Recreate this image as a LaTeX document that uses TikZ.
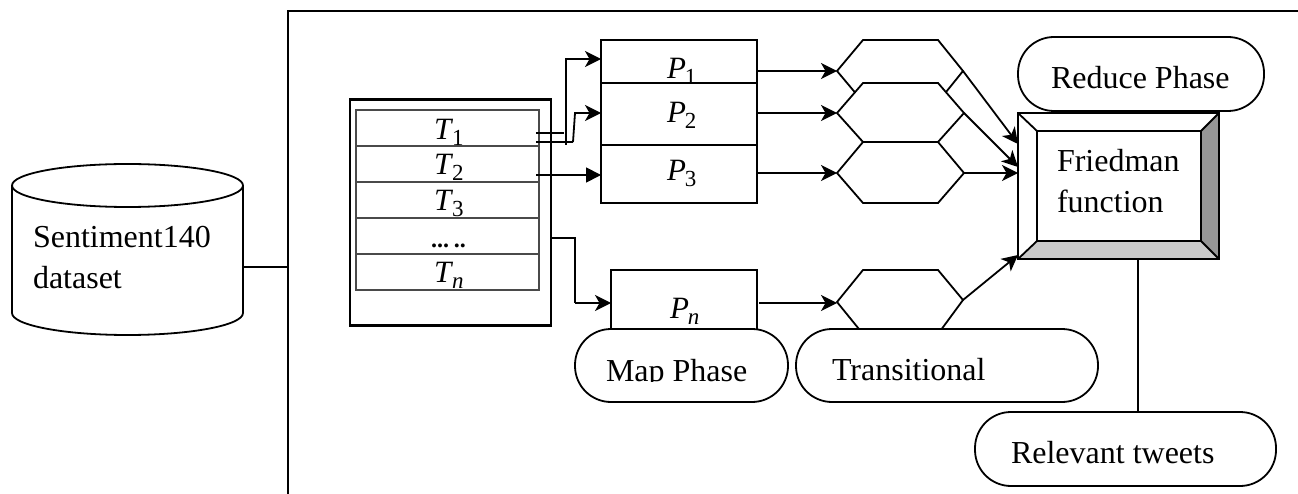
\documentclass[tikz,border=0pt]{standalone}
\usepackage{fontspec}
\setmainfont{Liberation Serif}
\usetikzlibrary{arrows.meta,calc}
\definecolor{facedark}{HTML}{969696}
\definecolor{facelight}{HTML}{CBCBCB}
\definecolor{cellline}{HTML}{4A4A4A}
\tikzset{
  ln/.style={draw=black,line width=1.8pt},
  rectbox/.style={ln,fill=white,rectangle,inner sep=0pt,outer sep=0pt},
  cellbox/.style={draw=cellline,line width=1.5pt,fill=white,rectangle,inner sep=0pt,outer sep=0pt,minimum width=183pt,minimum height=36pt},
  pill/.style={ln,fill=white,rectangle,rounded corners=36pt,inner sep=0pt,outer sep=0pt},
  hexa/.style={ln,fill=white,line join=miter},
  lbl/.style={anchor=base west,inner sep=0pt,outer sep=0pt,font=\fontsize{32}{32}\selectfont},
  mlbl/.style={anchor=base west,inner sep=0pt,outer sep=0pt,font=\fontsize{31}{31}\selectfont},
  arr/.style={ln,-{Stealth[length=16pt,width=16pt,inset=4.5pt]}},
  tarr/.style={ln,-{Triangle[length=15pt,width=15pt]}},
}
\newcommand{\hexpath}[7]{% name, lx, ly, rx, ry, top, bottom
  \coordinate (#1l) at (#2,#3);
  \coordinate (#1r) at (#4,#5);
  \draw[hexa] (#1l) -- (863,#6) -- (938,#6) -- (#1r) -- (938,#7) -- (863,#7) -- cycle;
}
% letter with subscript as the picture prints them
\newcommand{\subnum}[2]{\textit{#1}\kern-1pt\raisebox{-6pt}{\fontsize{23}{23}\selectfont #2}}
\newcommand{\subvar}[2]{\textit{#1}\kern-1pt\raisebox{-6pt}{\fontsize{23}{23}\selectfont\itshape #2}}
\begin{document}
\begin{tikzpicture}[x=1pt,y=-1pt]
\useasboundingbox (0,0) rectangle (1298,494);
% outer frame
\coordinate (frameTop) at (288,11);
\coordinate (frameEnd) at (1298,11);
\coordinate (frameBot) at (288,494);
\draw[ln] (frameEnd) -- (frameTop) -- (frameBot);
% cylinder
\draw[ln,fill=white] (12,186) -- (12,313) .. controls (12,325.2) and (63.8,335) .. (127.5,335)
   .. controls (191.3,335) and (243,325.2) .. (243,313) -- (243,186);
\draw[ln,fill=white] (127.5,185.5) ellipse [x radius=115.5,y radius=21.5];
\coordinate (cylR) at (243,267);
\draw[ln] (cylR) -- (cylR -| frameTop);
\node[lbl] (cyl1) at (33,248) {Sentiment140};
\node[lbl] (cyl2) at (33,289) {dataset};
% table
\node[rectbox,line width=2.2pt,minimum width=201pt,minimum height=226pt] (tbl) at (450.5,212.5) {};
\node[cellbox] (t1) at (447.5,128) {};
\node[cellbox] (t2) at (447.5,164) {};
\node[cellbox] (t3) at (447.5,200) {};
\node[cellbox] (t4) at (447.5,236) {};
\node[cellbox] (tn) at (447.5,272) {};
\node[mlbl] (tl1) at (434,140) {\subnum{T}{1}};
\node[mlbl] (tl2) at (434,175) {\subnum{T}{2}};
\node[mlbl] (tl3) at (434,211) {\subnum{T}{3}};
\node[mlbl,font=\fontsize{24}{24}\selectfont\bfseries] (tl4) at (431,248) {...\kern-1pt\ ..};
\node[mlbl] (tln) at (434,283) {\subvar{T}{n}};
% P boxes
\node[rectbox,minimum width=156pt,minimum height=43pt] (p1) at (679,61.5) {};
\node[mlbl] (pl1) at (667,79) {\subnum{P}{1}};
\node[rectbox,minimum width=156pt,minimum height=62pt] (p2) at (679,114) {};
\node[mlbl] (pl2) at (667,123) {\subnum{P}{2}};
\node[rectbox,minimum width=156pt,minimum height=58pt] (p3) at (679,174) {};
\node[mlbl] (pl3) at (667,181) {\subnum{P}{3}};
\node[rectbox,minimum width=146pt,minimum height=60pt] (pn) at (684,300) {};
\node[mlbl] (pln) at (670,318) {\subvar{P}{n}};
% hexagons
\hexpath{h1}{837}{71}{963}{71}{40}{102}
\hexpath{h2}{837}{113}{964}{113}{83}{142}
\hexpath{h3}{837}{173}{964}{173}{142}{203}
\hexpath{h4}{837}{302}{963}{300}{270}{334}
% pills
\node[pill,minimum width=213pt,minimum height=73pt] (mapP) at (681.5,365.5) {};
\begin{scope}
\clip (590,340) rectangle (770,381);
\node[lbl] (mapT) at (606,381) {Map Phase};
\end{scope}
\node[pill,minimum width=302pt,minimum height=73pt] (trP) at (947,365.5) {};
\node[lbl] (trT) at (832,380) {Transitional};
\node[pill,minimum width=246pt,minimum height=74pt] (redP) at (1141,74) {};
\node[lbl] (redT) at (1051,89) {Reduce Phase};
\node[pill,minimum width=301pt,minimum height=74pt] (relP) at (1125.5,449) {};
\node[lbl] (relT) at (1011,463) {Relevant tweets};
% Friedman bevel box
\node[rectbox,fill=white,minimum width=201pt,minimum height=146pt] (fr) at (1118.5,186) {};
\node[rectbox,minimum width=164pt,minimum height=110pt] (fi) at (1119,186) {};
\fill[facedark] (fi.north east) -- (fr.north east) -- (fr.south east) -- (fi.south east) -- cycle;
\fill[facelight] (fi.south west) -- (fi.south east) -- (fr.south east) -- (fr.south west) -- cycle;
\draw[ln] (fr.north west) rectangle (fr.south east);
\draw[ln] (fi.north west) rectangle (fi.south east);
\draw[ln] (fr.north west) -- (fi.north west);
\draw[ln] (fr.north east) -- (fi.north east);
\draw[ln] (fr.south west) -- (fi.south west);
\draw[ln] (fr.south east) -- (fi.south east);
\node[lbl] (fr1) at (1057,172) {Friedman};
\node[lbl] (fr2) at (1057,213) {function};
% connectors: table to P boxes
\coordinate (a1) at (536,133);
\coordinate (a1e) at (564,133);
\coordinate (a2) at (536,142);
\coordinate (a2m) at (573,142);
\coordinate (a2n) at (575,113);
\coordinate (v1) at (566,145);
\coordinate (v1t) at (566,59);
\coordinate (a3) at (536,175);
\draw[ln] (a1) -- (a1e);
\draw[ln] (a2) -- (a2m);
\draw[arr] (a2m) -- (a2n) -- (a2n -| p2.west);
\draw[arr] (v1) -- (v1t) -- (v1t -| p1.west);
\draw[tarr] (a3) -- (a3 -| p3.west);
\coordinate (bOut) at (551,238);
\coordinate (bBend) at (575,238);
\coordinate (bLow) at (575,303);
\draw[ln] (bOut) -- (bBend) -- (bLow);
\draw[arr] (bLow) -- (bLow -| pn.west);
% connectors: P boxes to hexagons
\draw[arr] (h1l -| p1.east) -- (h1l);
\draw[arr] (h2l -| p2.east) -- (h2l);
\draw[arr] (h3l -| p3.east) -- (h3l);
\coordinate (pnA) at (759,303);
\draw[arr] (pnA) -- (pnA -| h4l);
% connectors: hexagons to Friedman
\coordinate (f1) at (1018,144);
\coordinate (f2) at (1018,167);
\coordinate (f3) at (1018,175);
\coordinate (f4) at (1018,255);
\draw[arr] (h1r) -- (f1);
\draw[arr] (h2r) -- (f2);
\draw[arr] (h3r) -- (f3 |- h3r);
\draw[arr] (h4r) -- (f4);
% Friedman to relevant
\coordinate (frB) at (1138,259);
\draw[ln] (frB) -- (frB |- relP.north);
\end{tikzpicture}
\end{document}
